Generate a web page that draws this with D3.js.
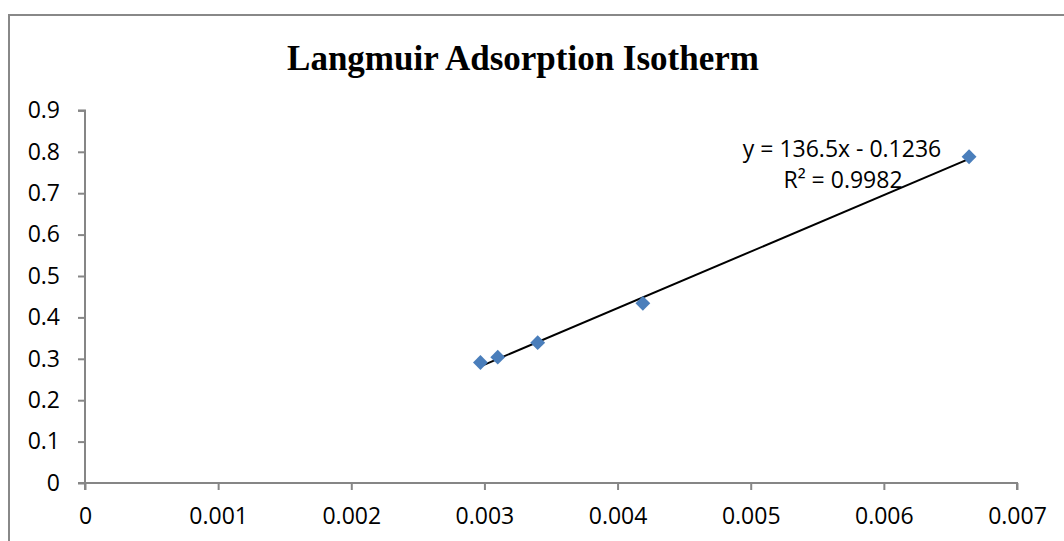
<!DOCTYPE html>
<html>
<head>
<meta charset="utf-8">
<script src="https://cdn.jsdelivr.net/npm/d3@7"></script>
<style>
  html, body { margin: 0; padding: 0; background: #fff; }
  svg { display: block; }
</style>
</head>
<body>
<svg id="chart" width="1064" height="541"></svg>
<script>
// Langmuir linearised data: 1/Ce on x, 1/qe on y
const xValues = [0.00297, 0.0031, 0.0034, 0.00419, 0.00664];
const yValues = [0.291, 0.304, 0.339, 0.434, 0.788];

// Linear trendline reported for the series
const trendSlope = 136.5;
const trendIntercept = -0.1236;
const trendR2 = 0.9982;

const xTicks = [0, 0.001, 0.002, 0.003, 0.004, 0.005, 0.006, 0.007];
const yTicks = [0, 0.1, 0.2, 0.3, 0.4, 0.5, 0.6, 0.7, 0.8, 0.9];
const titleText = "Langmuir Adsorption Isotherm";

const svg = d3.select("#chart");
const W = 1064, H = 541;
const axisColor = "#868686";
const labelFont = "'Open Sans', 'Noto Sans', sans-serif";

// chart area border (top and left edges visible)
svg.append("path")
  .attr("d", `M9,${H} V15 H${W}`)
  .attr("fill", "none")
  .attr("stroke", "#888")
  .attr("stroke-width", 2);

const plot = { left: 85, right: 1017, top: 110.4, bottom: 483 };

const x = d3.scaleLinear().domain([0, 0.007]).range([plot.left, plot.right]);
const y = d3.scaleLinear().domain([0, 0.9]).range([plot.bottom, plot.top]);

// title
svg.append("text")
  .attr("x", 523)
  .attr("y", 70)
  .attr("text-anchor", "middle")
  .attr("font-family", "'Liberation Serif', 'Times New Roman', serif")
  .attr("font-weight", "bold")
  .attr("font-size", 35)
  .attr("fill", "#000")
  .text(titleText);

// y axis
const yAxis = d3.axisLeft(y)
  .tickValues(yTicks)
  .tickFormat(d => d === 0 ? "0" : d3.format(".1f")(d))
  .tickSize(7)
  .tickPadding(18);
const gy = svg.append("g")
  .attr("transform", `translate(${plot.left},0)`)
  .call(yAxis);

// x axis
const xAxis = d3.axisBottom(x)
  .tickValues(xTicks)
  .tickFormat(d => d === 0 ? "0" : d3.format(".3f")(d))
  .tickSize(7)
  .tickPadding(18);
const gx = svg.append("g")
  .attr("transform", `translate(0,${plot.bottom})`)
  .call(xAxis);

[gx, gy].forEach(g => {
  g.select(".domain").attr("stroke", axisColor).attr("stroke-width", 2);
  g.selectAll(".tick line").attr("stroke", axisColor).attr("stroke-width", 2);
  g.selectAll(".tick text")
    .attr("fill", "#000")
    .attr("font-family", labelFont)
    .attr("font-size", 23);
});
gx.select(".domain").attr("d", `M${plot.left},7V0H${plot.right}V7`);
gy.select(".domain").attr("d", `M-7,${plot.top}H0V${plot.bottom}H-7`);
gx.selectAll(".tick text").attr("dy", "0.71em");

// linear trendline across the data range
const xMin = d3.min(xValues), xMax = d3.max(xValues);
const trend = [xMin, xMax].map(v => [v, trendSlope * v + trendIntercept]);
svg.append("path")
  .attr("d", d3.line().x(d => x(d[0])).y(d => y(d[1]))(trend))
  .attr("stroke", "#000")
  .attr("stroke-width", 2)
  .attr("fill", "none");

// diamond markers
const diamond = d3.symbol().type(d3.symbolSquare).size(110);
svg.append("g").selectAll("path")
  .data(xValues.map((v, i) => [v, yValues[i]]))
  .join("path")
  .attr("d", diamond)
  .attr("transform", d => `translate(${x(d[0])},${y(d[1])}) rotate(45)`)
  .attr("fill", "#4a7ebb");

// trendline equation label
const eq = svg.append("text")
  .attr("text-anchor", "middle")
  .attr("font-family", labelFont)
  .attr("font-size", 23)
  .attr("fill", "#000");
eq.append("tspan")
  .attr("x", 842).attr("y", 157)
  .text(`y = ${trendSlope}x - ${Math.abs(trendIntercept)}`);
eq.append("tspan")
  .attr("x", 843).attr("y", 188)
  .text(`R² = ${trendR2}`);
</script>
</body>
</html>
